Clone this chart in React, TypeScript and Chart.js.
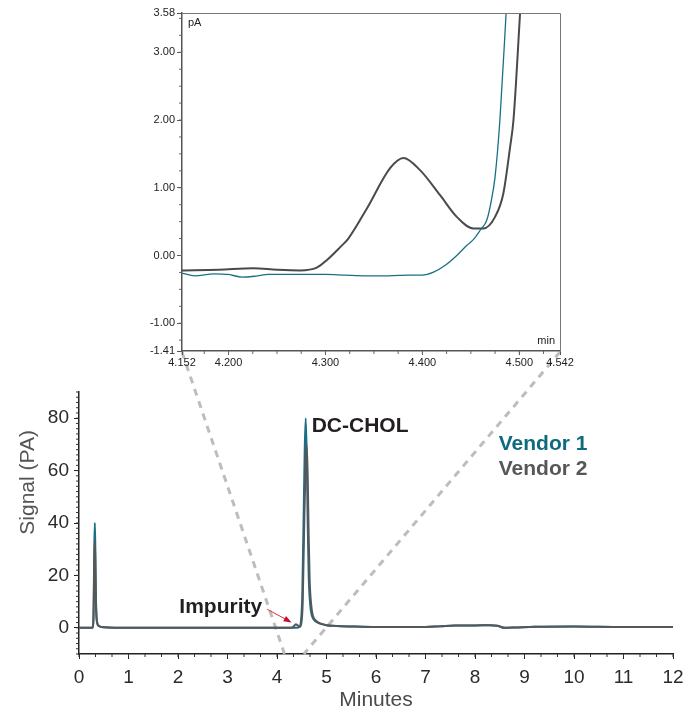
import React, { useEffect, useRef } from "react";
import { Chart, registerables } from "chart.js";

Chart.register(...registerables);

const FONT = '"Liberation Sans", Arial, Helvetica, sans-serif';
const TEAL = "#1a6f87";
const TEAL_TEXT = "#0f6a80";
const GRAY = "#555759";
const DASH = "#bdbdbd";

// ---- Main chromatogram (minutes, pA) ----
const mainTimesV1 = [0, 0.27, 0.29, 0.3, 0.31, 0.32, 0.33, 0.34, 0.36, 0.4, 0.5, 1, 2, 3, 3.8, 4.2, 4.4, 4.45, 4.48, 4.51, 4.54, 4.56, 4.58, 4.6, 4.62, 4.64, 4.67, 4.7, 4.75, 4.82, 4.9, 5.0, 5.2, 5.5, 6, 6.5, 7, 7.3, 7.6, 8, 8.3, 8.45, 8.6, 8.8, 9.2, 10, 11, 12];
const mainSignalV1 = [0, 0, 3, 15, 32, 40, 30, 14, 3, 0.8, 0.2, 0, 0, 0, 0, 0, 0, 0.3, 2, 12, 45, 68, 80, 66, 40, 20, 9, 5, 3, 2, 1.4, 1.0, 0.7, 0.5, 0.3, 0.3, 0.3, 0.6, 0.9, 0.9, 1.0, 0.8, 0.0, 0.1, 0.4, 0.5, 0.3, 0.3];
const mainTimesV2 = [0, 0.27, 0.29, 0.3, 0.31, 0.32, 0.33, 0.34, 0.36, 0.4, 0.5, 1, 2, 3, 3.8, 4.2, 4.3, 4.34, 4.38, 4.42, 4.46, 4.49, 4.52, 4.55, 4.58, 4.6, 4.62, 4.64, 4.66, 4.69, 4.72, 4.77, 4.84, 4.92, 5.0, 5.2, 5.5, 6, 6.5, 7, 7.3, 7.6, 8, 8.3, 8.45, 8.6, 8.8, 9.2, 10, 11, 12];
const mainSignalV2 = [0, 0, 2, 12, 27, 33, 25, 11, 2.5, 0.7, 0.2, 0, 0, 0, 0, 0, 0, 0.6, 1.4, 0.9, 0.4, 1.5, 10, 40, 64, 70, 58, 35, 18, 9, 5, 3, 2, 1.4, 1.0, 0.7, 0.5, 0.3, 0.3, 0.3, 0.6, 0.9, 0.9, 1.0, 0.8, 0.0, 0.1, 0.4, 0.5, 0.3, 0.3];
const mainXTicks = [0, 1, 2, 3, 4, 5, 6, 7, 8, 9, 10, 11, 12];
const mainYTicks = [0, 20, 40, 60, 80];
const mainXRange = [0, 12];
const mainYRange = [-10, 90];
const mainXMinorStep = 1 / 3;
const mainYMinorStep = 2;

// ---- Zoomed inset (4.152 - 4.542 min) ----
const zoomTimesV1 = [4.152, 4.165, 4.185, 4.2, 4.214, 4.23, 4.241, 4.26, 4.275, 4.3, 4.32, 4.343, 4.365, 4.387, 4.4, 4.411, 4.424, 4.4355, 4.446, 4.4535, 4.46, 4.4664, 4.471, 4.475, 4.48, 4.4864, 4.49];
const zoomSignalV1 = [-0.26, -0.3, -0.27, -0.28, -0.32, -0.3, -0.28, -0.28, -0.28, -0.28, -0.29, -0.3, -0.3, -0.29, -0.29, -0.25, -0.14, 0.0, 0.15, 0.25, 0.38, 0.52, 0.8, 1.16, 2.0, 3.58, 4.5];
const zoomTimesV2 = [4.152, 4.19, 4.2256, 4.25, 4.2738, 4.291, 4.3013, 4.315, 4.3236, 4.3426, 4.3667, 4.3804, 4.3976, 4.4183, 4.4355, 4.4526, 4.463, 4.475, 4.4836, 4.4905, 4.494, 4.5008, 4.505];
const zoomSignalV2 = [-0.22, -0.21, -0.19, -0.21, -0.22, -0.18, -0.07, 0.12, 0.25, 0.69, 1.29, 1.44, 1.26, 0.89, 0.57, 0.4, 0.4, 0.57, 0.92, 1.6, 2.0, 3.58, 4.6];
const zoomXTicks = [4.152, 4.2, 4.3, 4.4, 4.5, 4.542];
const zoomYTicks = [-1.41, -1.0, 0.0, 1.0, 2.0, 3.0, 3.58];
const zoomXMinorStep = 0.025;
const zoomYMinorStep = 0.25;

const INSET = { left: 120, top: 0, width: 470, height: 378 };

const pts = (xs: number[], ys: number[]) => xs.map((x, i) => ({ x, y: ys[i] }));

function minorTicks(id: string, specs: { axis: string; step: number; len: number; color: string; width: number }[]) {
  return {
    id,
    afterDraw(chart: any) {
      const ctx = chart.ctx;
      specs.forEach((s) => {
        const sc = chart.scales[s.axis];
        ctx.save();
        ctx.strokeStyle = s.color;
        ctx.lineWidth = s.width;
        ctx.beginPath();
        const start = Math.ceil(sc.min / s.step - 1e-9);
        for (let k = start; k * s.step <= sc.max + 1e-9; k++) {
          const p = sc.getPixelForValue(k * s.step);
          if (s.axis === "x") {
            ctx.moveTo(p, sc.top);
            ctx.lineTo(p, sc.top + s.len);
          } else {
            ctx.moveTo(sc.right, p);
            ctx.lineTo(sc.right - s.len, p);
          }
        }
        ctx.stroke();
        ctx.restore();
      });
    },
  };
}

export default function App() {
  const mainRef = useRef<HTMLCanvasElement>(null);
  const insetRef = useRef<HTMLCanvasElement>(null);

  useEffect(() => {
    const inset = new Chart(insetRef.current!, {
      type: "line",
      data: {
        datasets: [
          { label: "Vendor 1", data: pts(zoomTimesV1, zoomSignalV1), borderColor: TEAL, borderWidth: 1.3, pointRadius: 0, cubicInterpolationMode: "monotone" },
          { label: "Vendor 2", data: pts(zoomTimesV2, zoomSignalV2), borderColor: "#4a4a4a", borderWidth: 2, pointRadius: 0, cubicInterpolationMode: "monotone" },
        ],
      } as any,
      options: {
        responsive: false,
        animation: false,
        events: [],
        layout: { padding: { top: 13, right: 30, left: 0, bottom: 0 } },
        plugins: { legend: { display: false }, tooltip: { enabled: false } },
        scales: {
          x: {
            type: "linear",
            min: zoomXTicks[0],
            max: zoomXTicks[zoomXTicks.length - 1],
            afterFit: (s: any) => { s.height = INSET.height - 351; },
            afterBuildTicks: (s: any) => { s.ticks = zoomXTicks.map((v) => ({ value: v })); },
            grid: { drawOnChartArea: false, drawTicks: true, tickLength: 4, color: "#555" },
            border: { display: true, color: "#555", width: 1.5 },
            ticks: { padding: 1, maxRotation: 0, autoSkip: false, color: "#222", font: { family: FONT, size: 11 }, callback: (v: any) => Number(v).toFixed(3) },
          },
          y: {
            type: "linear",
            min: zoomYTicks[0],
            max: zoomYTicks[zoomYTicks.length - 1],
            afterFit: (s: any) => { s.width = 182 - INSET.left; },
            afterBuildTicks: (s: any) => { s.ticks = zoomYTicks.map((v) => ({ value: v })); },
            grid: { drawOnChartArea: false, drawTicks: true, tickLength: 5, color: "#555" },
            border: { display: true, color: "#555", width: 1.5 },
            ticks: { padding: 2, autoSkip: false, color: "#222", font: { family: FONT, size: 11 }, callback: (v: any) => Number(v).toFixed(2) },
          },
        },
      } as any,
      plugins: [
        minorTicks("insetMinor", [
          { axis: "x", step: zoomXMinorStep, len: 3, color: "#666", width: 1 },
          { axis: "y", step: zoomYMinorStep, len: 3, color: "#666", width: 1 },
        ]),
        {
          id: "insetBox",
          afterDraw(chart: any) {
            const { ctx, chartArea: a } = chart;
            ctx.save();
            ctx.strokeStyle = "#777";
            ctx.lineWidth = 1;
            ctx.beginPath();
            ctx.moveTo(a.left, a.top + 0.5);
            ctx.lineTo(a.right + 0.5, a.top + 0.5);
            ctx.lineTo(a.right + 0.5, a.bottom);
            ctx.stroke();
            ctx.fillStyle = "#222";
            ctx.font = `11px ${FONT}`;
            ctx.textBaseline = "middle";
            ctx.textAlign = "left";
            ctx.fillText("pA", a.left + 6, a.top + 10);
            ctx.textAlign = "right";
            ctx.fillText("min", a.right - 5, a.bottom - 10);
            ctx.restore();
          },
        },
      ],
    });

    const main = new Chart(mainRef.current!, {
      type: "line",
      data: {
        datasets: [
          { label: "Vendor 2", data: pts(mainTimesV2, mainSignalV2), borderColor: GRAY, borderWidth: 2, pointRadius: 0, cubicInterpolationMode: "monotone" },
          { label: "Vendor 1", data: pts(mainTimesV1, mainSignalV1), borderColor: TEAL, borderWidth: 2, pointRadius: 0, cubicInterpolationMode: "monotone" },
        ],
      } as any,
      options: {
        responsive: false,
        animation: false,
        events: [],
        layout: { padding: { top: 392, right: 26, left: 0, bottom: 0 } },
        plugins: { legend: { display: false }, tooltip: { enabled: false } },
        scales: {
          x: {
            type: "linear",
            min: mainXRange[0],
            max: mainXRange[1],
            afterFit: (s: any) => { s.height = 713 - 654; },
            afterBuildTicks: (s: any) => { s.ticks = mainXTicks.map((v) => ({ value: v })); },
            grid: { drawOnChartArea: false, drawTicks: true, tickLength: 5, color: "#222" },
            border: { display: true, color: "#222", width: 1.5 },
            ticks: { padding: 7, maxRotation: 0, autoSkip: false, color: "#2a2a2a", font: { family: FONT, size: 19 } },
          },
          y: {
            type: "linear",
            min: mainYRange[0],
            max: mainYRange[1],
            afterFit: (s: any) => { s.width = 79; },
            afterBuildTicks: (s: any) => { s.ticks = mainYTicks.map((v) => ({ value: v })); },
            grid: { drawOnChartArea: false, drawTicks: true, tickLength: 5, color: "#222" },
            border: { display: true, color: "#222", width: 1.5 },
            ticks: { padding: 5, autoSkip: false, color: "#2a2a2a", font: { family: FONT, size: 19 } },
          },
        },
      } as any,
      plugins: [
        minorTicks("mainMinor", [
          { axis: "x", step: mainXMinorStep, len: 3, color: "#333", width: 1 },
          { axis: "y", step: mainYMinorStep, len: 3, color: "#333", width: 1 },
        ]),
        {
          id: "zoomGuides",
          beforeDatasetsDraw(chart: any) {
            const ctx = chart.ctx;
            const mx = chart.scales.x;
            const ix = inset.scales.x as any;
            const iy = inset.scales.y as any;
            const ends = [zoomXTicks[0], zoomXTicks[zoomXTicks.length - 1]];
            ctx.save();
            ctx.strokeStyle = DASH;
            ctx.lineWidth = 3;
            ctx.setLineDash([7, 6]);
            ends.forEach((v) => {
              ctx.beginPath();
              ctx.moveTo(INSET.left + ix.getPixelForValue(v), INSET.top + iy.bottom + 1);
              ctx.lineTo(mx.getPixelForValue(v), mx.top);
              ctx.stroke();
            });
            ctx.restore();
          },
        },
        {
          id: "annotations",
          afterDraw(chart: any) {
            const ctx = chart.ctx;
            const xs = chart.scales.x;
            const ys = chart.scales.y;
            const X = (v: number) => xs.getPixelForValue(v);
            const Y = (v: number) => ys.getPixelForValue(v);
            ctx.save();
            ctx.textBaseline = "alphabetic";
            ctx.font = `bold 21px ${FONT}`;
            ctx.fillStyle = "#231f20";
            ctx.textAlign = "left";
            ctx.fillText("DC-CHOL", X(4.7), Y(74.7));
            ctx.textAlign = "right";
            ctx.fillText("Impurity", X(3.7), Y(5.7));
            ctx.textAlign = "left";
            ctx.fillStyle = TEAL_TEXT;
            ctx.fillText("Vendor 1", X(8.48), Y(67.8));
            ctx.fillStyle = GRAY;
            ctx.fillText("Vendor 2", X(8.48), Y(58.3));

            // arrow to impurity
            const x1 = X(3.8), y1 = Y(7.1), x2 = X(4.26), y2 = Y(2.4);
            ctx.strokeStyle = "#d9343a";
            ctx.fillStyle = "#c8102e";
            ctx.lineWidth = 1;
            ctx.beginPath();
            ctx.moveTo(x1, y1);
            ctx.lineTo(x2, y2);
            ctx.stroke();
            const ang = Math.atan2(y2 - y1, x2 - x1);
            ctx.beginPath();
            ctx.moveTo(x2 + 2 * Math.cos(ang), y2 + 2 * Math.sin(ang));
            ctx.lineTo(x2 - 6 * Math.cos(ang) + 3 * Math.sin(ang), y2 - 6 * Math.sin(ang) - 3 * Math.cos(ang));
            ctx.lineTo(x2 - 6 * Math.cos(ang) - 3 * Math.sin(ang), y2 - 6 * Math.sin(ang) + 3 * Math.cos(ang));
            ctx.closePath();
            ctx.fill();

            // axis titles
            ctx.fillStyle = "#4a4a4a";
            ctx.font = `21px ${FONT}`;
            ctx.textAlign = "center";
            ctx.textBaseline = "middle";
            ctx.fillText("Minutes", (xs.left + xs.right) / 2, 700);
            ctx.save();
            ctx.translate(28, Y(55.5));
            ctx.rotate(-Math.PI / 2);
            ctx.fillStyle = "#555";
            ctx.fillText("Signal (PA)", 0, 0);
            ctx.restore();
            ctx.restore();
          },
        },
      ],
    });

    return () => {
      main.destroy();
      inset.destroy();
    };
  }, []);

  return (
    <div style={{ position: "absolute", left: 0, top: 0, width: 699, height: 713, background: "#fff", overflow: "hidden" }}>
      <canvas ref={mainRef} width={699} height={713} style={{ position: "absolute", left: 0, top: 0 }} />
      <canvas ref={insetRef} width={INSET.width} height={INSET.height} style={{ position: "absolute", left: INSET.left, top: INSET.top }} />
    </div>
  );
}
